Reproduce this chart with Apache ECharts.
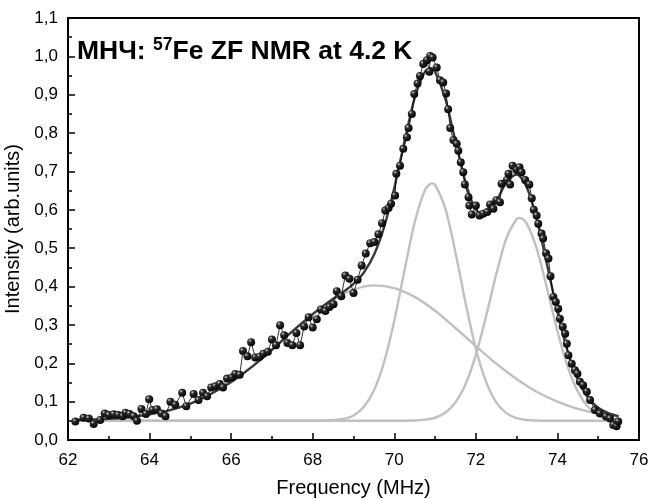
<!DOCTYPE html>
<html>
<head>
<meta charset="utf-8">
<script src="https://cdn.jsdelivr.net/npm/echarts@6/dist/echarts.min.js"></script>
<style>
html,body{margin:0;padding:0;background:#fff;}
#chart{width:649px;height:499px;}
</style>
</head>
<body>
<div id="chart"></div>
<script>
// ---- measured data points (Frequency MHz, Intensity) ----
const dataFreq = [62.18,62.38,62.51,62.63,62.79,62.90,63.00,63.12,63.23,63.34,63.41,63.51,63.61,63.69,63.80,63.91,63.99,64.07,64.18,64.29,64.39,64.51,64.63,64.80,64.90,65.08,65.20,65.31,65.41,65.51,65.61,65.72,65.80,65.90,66.02,66.10,66.21,66.29,66.40,66.49,66.59,66.70,66.79,66.90,67.00,67.10,67.20,67.30,67.38,67.50,67.60,67.69,67.79,67.90,68.00,68.10,68.20,68.31,68.41,68.51,68.59,68.70,68.80,68.90,69.00,69.10,69.20,69.30,69.41,69.51,69.61,69.70,69.78,69.86,69.92,70.02,70.05,70.14,70.22,70.31,70.35,70.43,70.49,70.57,70.63,70.71,70.80,70.86,70.88,70.94,71.04,71.12,71.20,71.27,71.32,71.37,71.45,71.53,71.57,71.63,71.69,71.73,71.82,71.84,71.90,72.00,72.09,72.18,72.28,72.35,72.43,72.50,72.59,72.63,72.76,72.80,72.84,72.90,73.00,73.07,73.12,73.21,73.31,73.37,73.42,73.49,73.53,73.61,73.65,73.72,73.78,73.83,73.90,73.96,74.02,74.06,74.13,74.19,74.23,74.27,74.35,74.43,74.49,74.55,74.63,74.72,74.80,74.92,75.04,75.19,75.29,75.37,75.45,75.49];
const dataInt = [0.048,0.058,0.056,0.042,0.052,0.069,0.065,0.067,0.065,0.062,0.071,0.068,0.062,0.050,0.081,0.068,0.106,0.078,0.080,0.069,0.062,0.100,0.092,0.123,0.088,0.120,0.104,0.123,0.114,0.137,0.140,0.146,0.137,0.160,0.163,0.172,0.170,0.232,0.218,0.255,0.215,0.217,0.225,0.230,0.262,0.247,0.299,0.273,0.253,0.247,0.279,0.247,0.296,0.320,0.293,0.315,0.340,0.336,0.347,0.354,0.388,0.375,0.429,0.420,0.383,0.418,0.455,0.486,0.513,0.516,0.536,0.565,0.598,0.605,0.616,0.637,0.694,0.715,0.759,0.789,0.813,0.850,0.902,0.929,0.949,0.980,0.990,0.960,1.001,0.997,0.971,0.938,0.932,0.903,0.862,0.813,0.782,0.772,0.754,0.724,0.698,0.666,0.633,0.611,0.588,0.611,0.585,0.590,0.594,0.614,0.603,0.625,0.620,0.668,0.678,0.694,0.666,0.715,0.704,0.711,0.698,0.678,0.666,0.630,0.600,0.585,0.564,0.538,0.525,0.487,0.473,0.427,0.373,0.360,0.342,0.316,0.295,0.277,0.251,0.221,0.199,0.182,0.173,0.152,0.143,0.126,0.104,0.078,0.069,0.061,0.056,0.039,0.036,0.048];

// ---- total fit curve (dark) ----
const fitFreq = [62.2,62.5,63,63.5,64,64.5,65,65.5,66,66.5,67,67.5,68,68.25,68.5,68.75,69,69.25,69.5,69.75,70,70.25,70.5,70.75,70.9,71,71.25,71.5,71.75,72,72.25,72.5,72.75,73,73.25,73.5,73.75,74,74.25,74.5,74.75,75,75.25,75.5];
const fitInt = [0.052,0.053,0.055,0.059,0.067,0.078,0.095,0.120,0.151,0.190,0.235,0.283,0.328,0.349,0.368,0.386,0.407,0.436,0.482,0.555,0.657,0.778,0.891,0.960,0.969,0.960,0.890,0.779,0.671,0.600,0.588,0.622,0.672,0.692,0.658,0.572,0.455,0.334,0.231,0.157,0.110,0.084,0.070,0.062];

// ---- component 1: broad ----
const broadFreq = [62.2,62.5,63,63.5,64,64.5,65,65.5,66,66.5,67,67.5,68,68.5,69,69.5,70,70.5,71,71.5,72,72.5,73,73.5,74,74.5,75,75.5];
const broadInt = [0.052,0.053,0.055,0.059,0.067,0.078,0.095,0.120,0.151,0.190,0.235,0.283,0.328,0.367,0.392,0.403,0.396,0.373,0.337,0.292,0.245,0.199,0.159,0.125,0.100,0.081,0.069,0.061];

// ---- component 2: peak near 70.9 MHz ----
const peakAFreq = [62.2,65,67.5,68,68.25,68.5,68.75,69,69.25,69.5,69.75,70,70.25,70.5,70.75,70.92,71,71.25,71.5,71.75,72,72.25,72.5,72.75,73,73.25,73.5,73.75,74.5,75.5];
const peakAInt = [0.050,0.050,0.050,0.050,0.0504,0.052,0.055,0.064,0.086,0.129,0.203,0.311,0.442,0.567,0.651,0.669,0.665,0.604,0.489,0.356,0.238,0.152,0.098,0.070,0.057,0.052,0.0507,0.0502,0.050,0.050];

// ---- component 3: peak near 73.1 MHz ----
const peakBFreq = [62.2,66,69,70,70.5,70.75,71,71.25,71.5,71.75,72,72.25,72.5,72.75,73,73.08,73.25,73.5,73.75,74,74.25,74.5,74.75,75,75.25,75.5];
const peakBInt = [0.050,0.050,0.050,0.0501,0.051,0.053,0.058,0.071,0.098,0.146,0.222,0.322,0.432,0.526,0.576,0.579,0.564,0.496,0.393,0.284,0.191,0.126,0.086,0.065,0.056,0.052];

const zip = (xs, ys) => xs.map((x, i) => [x, ys[i]]);

const chart = echarts.init(document.getElementById('chart'), null, {renderer: 'canvas'});
const FONT = 'Liberation Sans, Arial, sans-serif';
const gray = '#c0c0c0';

chart.setOption({
  animation: false,
  backgroundColor: '#fff',
  grid: {left: 68, right: 10, top: 18, bottom: 59, outerBoundsMode: 'none', containLabel: false,
    show: true, borderColor: '#000', borderWidth: 2, backgroundColor: 'transparent'},
  xAxis: {
    type: 'value', min: 62, max: 76, interval: 2,
    name: 'Frequency (MHz)', nameLocation: 'middle', nameGap: 38,
    nameTextStyle: {fontFamily: FONT, fontSize: 20, color: '#000'},
    axisLine: {show: true, onZero: false, lineStyle: {color: '#000', width: 2}},
    axisTick: {show: true, inside: true, length: 7, lineStyle: {color: '#000', width: 1.5}},
    minorTick: {show: true, splitNumber: 2, length: 4, lineStyle: {color: '#000', width: 1.5}},
    axisLabel: {fontFamily: FONT, fontSize: 17, color: '#000', margin: 12},
    splitLine: {show: false}
  },
  yAxis: {
    type: 'value', min: 0, max: 1.1, interval: 0.1,
    name: 'Intensity (arb.units)', nameLocation: 'middle', nameGap: 38,
    nameTextStyle: {fontFamily: FONT, fontSize: 20, color: '#000'},
    axisLine: {show: true, onZero: false, lineStyle: {color: '#000', width: 2}},
    axisTick: {show: true, inside: true, length: 7, lineStyle: {color: '#000', width: 1.5}},
    minorTick: {show: true, splitNumber: 2, length: 4, lineStyle: {color: '#000', width: 1.5}},
    axisLabel: {fontFamily: FONT, fontSize: 17, color: '#000', margin: 10,
      formatter: v => v.toFixed(1).replace('.', ',')},
    splitLine: {show: false}
  },
  graphic: [{
    type: 'text', left: 77, top: 36, z: 100,
    style: {
      text: '{a|МНЧ: }{s|57}{a|Fe ZF NMR at 4.2 K}',
      rich: {
        a: {fontFamily: FONT, fontWeight: 'bold', fontSize: 26.5, lineHeight: 32, fill: '#000', verticalAlign: 'middle'},
        s: {fontFamily: FONT, fontWeight: 'bold', fontSize: 17.5, lineHeight: 20, fill: '#000', verticalAlign: 'top'}
      }
    }
  }],
  series: [
    {type: 'line', name: 'broad', data: zip(broadFreq, broadInt), showSymbol: false, symbol: 'none', smooth: 0.3,
      lineStyle: {color: gray, width: 2.4}, z: 1},
    {type: 'line', name: 'peakA', data: zip(peakAFreq, peakAInt), showSymbol: false, symbol: 'none', smooth: 0.3,
      lineStyle: {color: gray, width: 2.4}, z: 1},
    {type: 'line', name: 'peakB', data: zip(peakBFreq, peakBInt), showSymbol: false, symbol: 'none', smooth: 0.3,
      lineStyle: {color: gray, width: 2.4}, z: 1},
    {type: 'line', name: 'fit', data: zip(fitFreq, fitInt), showSymbol: false, symbol: 'none', smooth: 0.3,
      lineStyle: {color: '#3a3a3a', width: 2.4}, z: 2},
    {type: 'line', name: 'data', data: zip(dataFreq, dataInt), symbol: 'circle', symbolSize: 8, showSymbol: true,
      lineStyle: {color: '#000', width: 0.8},
      itemStyle: {color: {type: 'radial', x: 0.35, y: 0.3, r: 0.75,
        colorStops: [{offset: 0, color: '#d0d0d0'}, {offset: 0.3, color: '#2a2a2a'}, {offset: 1, color: '#000'}]},
        borderWidth: 0},
      z: 3}
  ]
});
</script>
</body>
</html>
